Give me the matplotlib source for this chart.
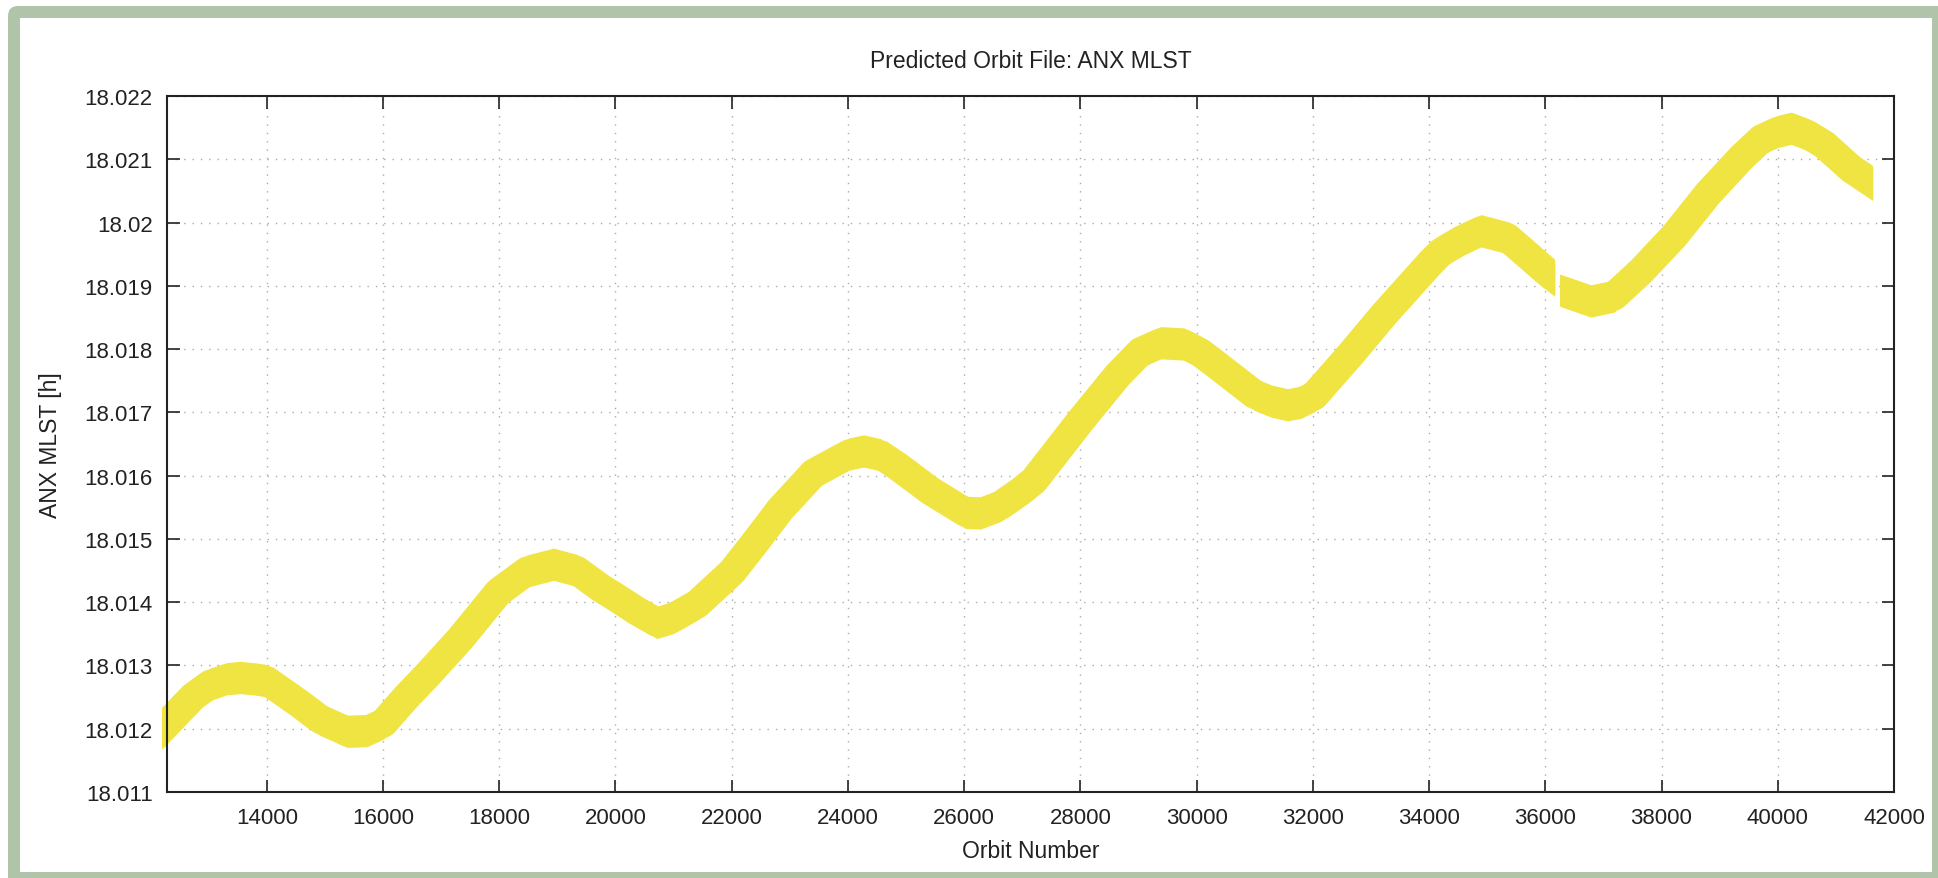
import numpy as np
import matplotlib
matplotlib.use('Agg')
import matplotlib.pyplot as plt
from matplotlib.patches import FancyBboxPatch, Rectangle
from matplotlib.transforms import IdentityTransform

# Orbit number / ANX MLST (two segments, gap near 36200)
orbit_a = [12200, 12736, 13024, 13311, 13540, 13770, 14000, 14574, 14918, 15377,
           15722, 16008, 16411, 16755, 17329, 17988, 18477, 18935, 19337, 19739,
           19968, 20371, 20716, 21001, 21405, 22007, 22408, 22839, 23412, 24015,
           24270, 24560, 24838, 25421, 26024, 26282, 26626, 26971, 27200, 28005,
           28636, 29038, 29383, 29784, 30072, 30359, 30989, 31277, 31564, 31793,
           32022, 32654, 33228, 34031, 34204, 34550, 34893, 35352, 35753, 36040,
           36166]
mlst_a = [18.01200, 18.01251, 18.01270, 18.01279, 18.01281, 18.01279, 18.01276, 18.01239, 18.01215, 18.01196,
          18.01197, 18.01209, 18.01251, 18.01284, 18.01342, 18.01416, 18.01449, 18.01460, 18.01450, 18.01423,
          18.01410, 18.01386, 18.01368, 18.01376, 18.01397, 18.01448, 18.01495, 18.01547, 18.01604, 18.01634,
          18.01639, 18.01633, 18.01616, 18.01576, 18.01542, 18.01541, 18.01553, 18.01575, 18.01592, 18.01687,
          18.01758, 18.01796, 18.01810, 18.01808, 18.01794, 18.01774, 18.01729, 18.01718, 18.01712, 18.01716,
          18.01726, 18.01792, 18.01855, 18.01937, 18.01953, 18.01972, 18.01987, 18.01976, 18.01944, 18.01921,
          18.01912]
orbit_b = [36250, 36786, 37187, 37647, 38221, 38795, 39369, 39716, 40000, 40230,
           40517, 40803, 41263, 41637]
mlst_b = [18.01893, 18.01876, 18.01884, 18.01923, 18.01979, 18.02045, 18.02102, 18.02132, 18.02144, 18.02149,
          18.02139, 18.02123, 18.02085, 18.02062]

xticks = np.arange(14000, 42001, 2000)
yticks = [18.011, 18.012, 18.013, 18.014, 18.015, 18.016, 18.017, 18.018, 18.019, 18.020, 18.021, 18.022]
ytick_labels = ['18.011', '18.012', '18.013', '18.014', '18.015', '18.016', '18.017', '18.018', '18.019', '18.02', '18.021', '18.022']

plt.rcParams['font.family'] = ['Liberation Sans', 'DejaVu Sans']

W, H = 1938, 879
fig = plt.figure(figsize=(W / 100, H / 100), dpi=100)
fig.patch.set_facecolor('white')

# green frame
fig.patches.append(FancyBboxPatch((8, -30), 1990, 902, boxstyle='round,pad=0,rounding_size=10',
                                  transform=IdentityTransform(), facecolor='#afc4a8', edgecolor='none', zorder=-10))
fig.patches.append(Rectangle((20, 6), 1912, 854, transform=IdentityTransform(),
                             facecolor='white', edgecolor='none', zorder=-9))

ax = fig.add_axes([166.7 / W, 1 - 793 / H, (1894 - 166.7) / W, (793 - 97) / H])
ax.set_facecolor('none')

yellow = '#f0e442'
half = 0.000255
for xs, ys in [(orbit_a, mlst_a), (orbit_b, mlst_b)]:
    xs = np.array(xs); ys = np.array(ys)
    ax.fill_between(xs, ys - half, ys + half, color=yellow, lw=0, clip_on=False, zorder=3)
    ln, = ax.plot(xs, ys, color=yellow, lw=21, solid_capstyle='projecting', solid_joinstyle='round', zorder=3)
    # cut the thick line square at the segment's first/last orbit
    ln.set_clip_path(Rectangle((xs[0], 18.0), xs[-1] - xs[0], 0.05, transform=ax.transData))

ax.set_xlim(12278, 42000)
ax.set_ylim(18.011, 18.022)
ax.set_xticks(xticks)
ax.set_yticks(yticks)
ax.set_yticklabels(ytick_labels)

ax.grid(True, color='#aaaaaa', lw=1.0, linestyle=(0, (1, 5)))
ax.set_axisbelow(True)
ax.tick_params(direction='in', length=9, width=1.2, top=True, right=True, labelsize=16,
               colors='#222222')
ax.tick_params(axis='x', pad=11)
ax.tick_params(axis='y', pad=10)
for s in ax.spines.values():
    s.set_linewidth(1.5)
    s.set_color('#222222')
    s.set_zorder(4)

ax.set_title('Predicted Orbit File: ANX MLST', fontsize=16.5, pad=21, color='#222222')
ax.set_xlabel('Orbit Number', fontsize=16.5, labelpad=8, color='#222222')
ax.set_ylabel('ANX MLST [h]', fontsize=16.5, labelpad=16, color='#222222')

fig.savefig('out.png', dpi=100)
